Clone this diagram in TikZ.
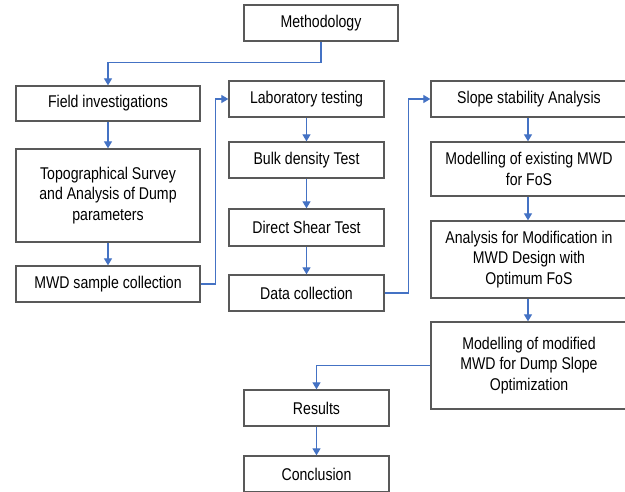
\documentclass[tikz,border=0pt]{standalone}
\usepackage{fontspec}
\setmainfont{Liberation Sans}[FakeStretch=0.83]
\usetikzlibrary{arrows.meta}
\definecolor{linkblue}{HTML}{4472C4}
\definecolor{boxgray}{HTML}{595959}
\begin{document}
\begin{tikzpicture}[x=1pt,y=-1pt,
  box/.style={draw=boxgray,line width=1.3pt,fill=white,inner sep=0pt,align=center,
    font=\fontsize{17}{20.5}\selectfont},
  link/.style={draw=linkblue,line width=1.2pt,-{Triangle[length=7pt,width=8pt]}},
  plain/.style={draw=linkblue,line width=1.2pt}]
\clip (0,0) rectangle (625,491);
\fill[white] (0,0) rectangle (625,491);
% left column
\node[box,minimum width=154pt,minimum height=36pt] (meth) at (321,23) {Methodology};
\node[box,minimum width=184pt,minimum height=35pt] (field) at (108,103.5) {Field investigations};
\node[box,minimum width=184pt,minimum height=93pt] (topo) at (108,195.5) {Topographical Survey\\and Analysis of Dump\\parameters};
\node[box,minimum width=184pt,minimum height=36pt] (mwd) at (108,284) {MWD sample collection};
% middle column
\node[box,minimum width=155pt,minimum height=36pt] (lab) at (306.5,99) {Laboratory testing};
\node[box,minimum width=155pt,minimum height=36pt] (bulk) at (306.5,160) {Bulk density Test};
\node[box,minimum width=155pt,minimum height=37pt] (direct) at (306.5,227.5) {Direct Shear Test};
\node[box,minimum width=155pt,minimum height=36pt] (data) at (306.5,293) {Data collection};
% right column
\node[box,minimum width=196pt,minimum height=36pt] (slope) at (529,99) {Slope stability Analysis};
\node[box,minimum width=196pt,minimum height=54pt] (mexist) at (529,169) {Modelling of existing MWD\\for FoS};
\node[box,minimum width=196pt,minimum height=77pt] (anal) at (529,259.5) {Analysis for Modification in\\MWD Design with\\Optimum FoS};
\node[box,minimum width=196pt,minimum height=87pt] (mmod) at (529,365.5) {Modelling of modified\\MWD for Dump Slope\\Optimization};
% bottom
\node[box,minimum width=145pt,minimum height=36pt] (results) at (316.5,408) {Results};
\node[box,minimum width=145pt,minimum height=36pt] (concl) at (316.5,474) {Conclusion};
% connectors
\draw[link] (meth.south) -- ++(0,21) -| (field.north);
\draw[link] (field) -- (topo);
\draw[link] (topo) -- (mwd);
\draw[link] (mwd.east) -- ++(15,0) |- (lab.west);
\draw[link] (lab) -- (bulk);
\draw[link] (bulk) -- (direct);
\draw[link] (direct) -- (data);
\draw[link] (data.east) -- ++(24,0) |- (slope.west);
\draw[link] ([xshift=-1pt]slope.south) -- ([xshift=-1pt]mexist.north);
\draw[link] ([xshift=-1pt]mexist.south) -- ([xshift=-1pt]anal.north);
\draw[link] ([xshift=-1pt]anal.south) -- ([xshift=-1pt]mmod.north);
\draw[link] (mmod.west) -| (results.north);
\draw[link] (results) -- (concl);
\end{tikzpicture}
\end{document}
